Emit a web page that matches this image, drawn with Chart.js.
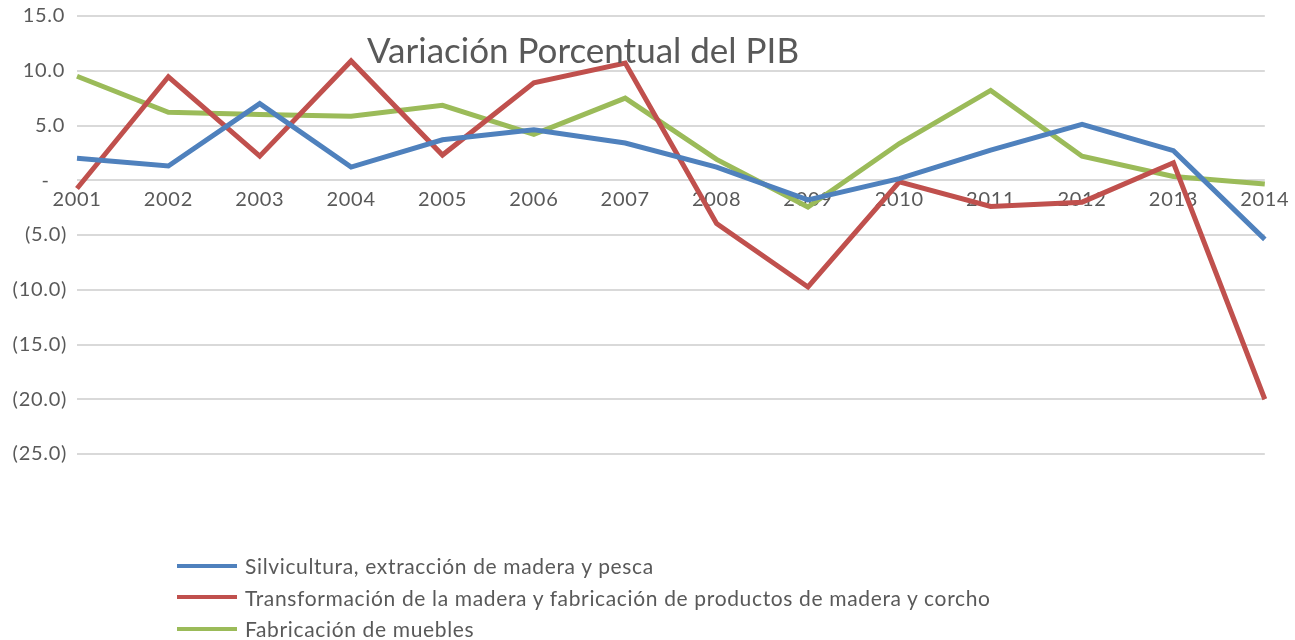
<!DOCTYPE html>
<html>
<head>
<meta charset="utf-8">
<script src="https://cdn.jsdelivr.net/npm/chart.js@4"></script>
<style>
  html, body { margin: 0; padding: 0; background: #fff; }
  #wrap { position: relative; width: 1295px; height: 640px; }
  #legend { position: absolute; left: 177px; top: 550px; font-family: Lato, sans-serif; font-size: 21px; letter-spacing: 0.65px; color: #595959; }
  .item { display: flex; align-items: center; height: 31.5px; }
  .swatch { width: 60px; height: 4px; margin-right: 8px; }
</style>
</head>
<body>
<div id="wrap">
  <canvas id="chart" width="1295" height="640"></canvas>
  <div id="legend"></div>
</div>
<script>
const years = ['2001','2002','2003','2004','2005','2006','2007','2008','2009','2010','2011','2012','2013','2014'];
const silvicultura = [2.0, 1.3, 7.0, 1.2, 3.7, 4.6, 3.4, 1.2, -1.8, 0.15, 2.75, 5.1, 2.7, -5.4];
const transformacion = [-0.75, 9.45, 2.2, 10.9, 2.3, 8.9, 10.7, -3.95, -9.75, -0.15, -2.4, -2.0, 1.6, -20.0];
const muebles = [9.5, 6.2, 6.0, 5.85, 6.85, 4.2, 7.5, 1.9, -2.45, 3.35, 8.2, 2.2, 0.35, -0.35];
const seriesNames = [
  'Silvicultura, extracción de madera y pesca',
  'Transformación de la madera y fabricación de productos de madera y corcho',
  'Fabricación de muebles'
];
const seriesColors = ['#4f81bd', '#c0504d', '#9bbb59'];
const chartTitle = 'Variación Porcentual del PIB';

const textColor = '#595959';

// wider letter spacing like the Excel rendering
const spacingPlugin = {
  id: 'spacing',
  beforeInit(chart) { chart.ctx.letterSpacing = '0.7px'; },
  beforeDraw(chart) { chart.ctx.letterSpacing = '0.7px'; }
};

const titlePlugin = {
  id: 'floatingTitle',
  afterDatasetsDraw(chart) {
    const ctx = chart.ctx;
    ctx.save();
    ctx.letterSpacing = '0px';
    ctx.font = '35px Lato, sans-serif';
    ctx.fillStyle = textColor;
    ctx.textAlign = 'center';
    ctx.textBaseline = 'alphabetic';
    ctx.fillText(chartTitle, 583, 63);
    ctx.restore();
  }
};

// accounting style: 0 -> "-", negatives in brackets
function fmt(v) {
  if (v === 0) return '-   ';
  if (v < 0) return '(' + Math.abs(v).toFixed(1) + ')';
  return v.toFixed(1) + '\u200A';
}

const data = {
  labels: years,
  datasets: [silvicultura, transformacion, muebles].map((vals, i) => ({
    label: seriesNames[i],
    data: vals,
    borderColor: seriesColors[i],
    backgroundColor: seriesColors[i],
    borderWidth: 5,
    pointRadius: 0,
    tension: 0,
    fill: false
  }))
};

new Chart(document.getElementById('chart'), {
  type: 'line',
  data: data,
  options: {
    responsive: false,
    animation: false,
    layout: { padding: { top: 16, right: 29, bottom: 186, left: 0 } },
    plugins: {
      legend: { display: false },
      tooltip: { enabled: false }
    },
    scales: {
      x: {
        position: { y: 0 },
        offset: false,
        grid: { display: false, drawTicks: false },
        border: { display: false },
        ticks: {
          color: textColor,
          font: { family: 'Lato', size: 20 },
          padding: 7,
          maxRotation: 0,
          autoSkip: false
        }
      },
      y: {
        min: -25,
        max: 15,
        ticks: {
          stepSize: 5,
          color: textColor,
          font: { family: 'Lato', size: 20 },
          padding: 10,
          callback: (v) => fmt(v)
        },
        grid: { color: '#d9d9d9', lineWidth: 2, drawTicks: false },
        border: { display: false },
        afterFit(scale) {
          scale.width = 77;
          scale.paddingTop = 0;
          scale.paddingBottom = 0;
        }
      }
    }
  },
  plugins: [spacingPlugin, titlePlugin]
});

const legend = document.getElementById('legend');
seriesNames.forEach((name, i) => {
  const item = document.createElement('div');
  item.className = 'item';
  const sw = document.createElement('span');
  sw.className = 'swatch';
  sw.style.background = seriesColors[i];
  const label = document.createElement('span');
  label.textContent = name;
  item.appendChild(sw);
  item.appendChild(label);
  legend.appendChild(item);
});
</script>
</body>
</html>
